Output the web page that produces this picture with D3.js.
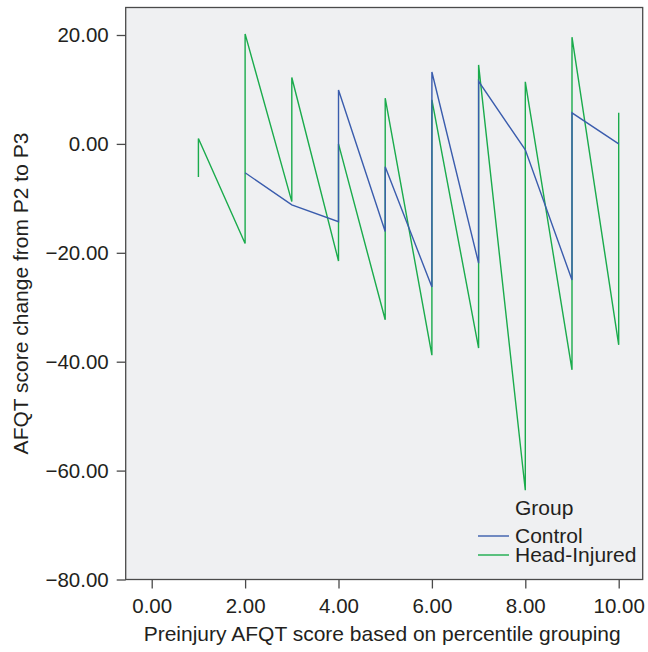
<!DOCTYPE html>
<html>
<head>
  <meta charset="utf-8">
  <script src="https://cdn.jsdelivr.net/npm/d3@7"></script>
  <style>
    body { margin: 0; background: #fff; }
    text { font-family: "Liberation Sans", Arial, sans-serif; fill: #231f20; }
  </style>
</head>
<body>
<div id="chart"></div>
<script>
  // points in drawing order (x = percentile group, y = score change)
  const controlX = [2, 3, 4, 4, 5, 5, 6, 6, 7, 7, 8, 9, 9, 10];
  const controlY = [-5.3, -11.2, -14.3, 9.9, -16.1, -4.2, -26.3, 13.2, -21.9, 11.5, -1.1, -25.0, 5.7, 0];
  const injuredX = [1, 1, 2, 2, 3, 3, 4, 4, 5, 5, 6, 6, 7, 7, 8, 8, 9, 9, 10, 10];
  const injuredY = [-6.1, 1.0, -18.3, 20.2, -10.6, 12.2, -21.5, 0, -32.3, 8.4, -38.8, 8.1, -37.5, 14.5, -63.6, 11.4, -41.5, 19.6, -36.9, 5.7];
  const xTicks = [0, 2, 4, 6, 8, 10];
  const yTicks = [20, 0, -20, -40, -60, -80];
  const groups = ["Control", "Head-Injured"];

  const width = 648, height = 652;
  const margin = { top: 7.5, right: 5.3, bottom: 72.5, left: 125.7 };

  const svg = d3.select("#chart").append("svg")
    .attr("width", width)
    .attr("height", height);

  const x = d3.scaleLinear().domain([-0.557, 10.514]).range([margin.left, width - margin.right]);
  const y = d3.scaleLinear().domain([-80, 25.05]).range([height - margin.bottom, margin.top]);

  const color = d3.scaleOrdinal(groups, ["#3a5cad", "#1aab4c"]);

  // plot background
  svg.append("rect")
    .attr("x", x.range()[0]).attr("y", y.range()[1])
    .attr("width", x.range()[1] - x.range()[0])
    .attr("height", y.range()[0] - y.range()[1])
    .attr("fill", "#eff0f2")
    .attr("stroke", "#4a4a4a")
    .attr("stroke-width", 1.3);

  const series = [
    { name: "Control", pts: controlX.map((d, i) => [d, controlY[i]]) },
    { name: "Head-Injured", pts: injuredX.map((d, i) => [d, injuredY[i]]) }
  ];

  const line = d3.line().x(d => x(d[0])).y(d => y(d[1]));

  svg.selectAll("path.series")
    .data(series.slice().reverse())
    .enter().append("path")
      .attr("class", "series")
      .attr("d", d => line(d.pts))
      .attr("fill", "none")
      .attr("stroke", d => color(d.name))
      .attr("stroke-width", 1.4)
      .attr("stroke-linejoin", "miter");

  // axes
  const xAxis = svg.append("g")
    .attr("transform", `translate(0,${y.range()[0]})`)
    .call(d3.axisBottom(x).tickValues(xTicks).tickSize(9).tickPadding(7).tickFormat(d3.format(".2f")));
  const yAxis = svg.append("g")
    .attr("transform", `translate(${x.range()[0]},0)`)
    .call(d3.axisLeft(y).tickValues(yTicks).tickSize(9).tickPadding(8).tickFormat(d => d3.format(".2f")(d).replace("-", "\u2212")));

  [xAxis, yAxis].forEach(g => {
    g.select(".domain").remove();
    g.selectAll(".tick line").attr("stroke", "#4a4a4a").attr("stroke-width", 1.3);
    g.selectAll(".tick text").attr("font-size", 20.5).attr("fill", "#231f20")
      .style("font-family", "'Liberation Sans', Arial, sans-serif");
  });
  xAxis.selectAll(".tick text").attr("y", 33.5).attr("dy", 0);

  svg.append("text")
    .attr("x", (x.range()[0] + x.range()[1]) / 2 - 2)
    .attr("y", 641)
    .attr("text-anchor", "middle")
    .attr("font-size", 21)
    .text("Preinjury AFQT score based on percentile grouping");

  svg.append("text")
    .attr("transform", `translate(28,${(y.range()[0] + y.range()[1]) / 2}) rotate(-90)`)
    .attr("text-anchor", "middle")
    .attr("font-size", 21)
    .text("AFQT score change from P2 to P3");

  // legend
  const legend = svg.append("g").attr("transform", "translate(478,0)");
  legend.append("text").attr("x", 37).attr("y", 515).attr("font-size", 21).text("Group");
  groups.forEach((g, i) => {
    const ly = 536 + i * 19;
    legend.append("line")
      .attr("x1", 0).attr("x2", 31).attr("y1", ly).attr("y2", ly)
      .attr("stroke", color(g)).attr("stroke-width", 1.4);
    legend.append("text").attr("x", 37).attr("y", ly + 6.5).attr("font-size", 21).text(g);
  });
</script>
</body>
</html>
